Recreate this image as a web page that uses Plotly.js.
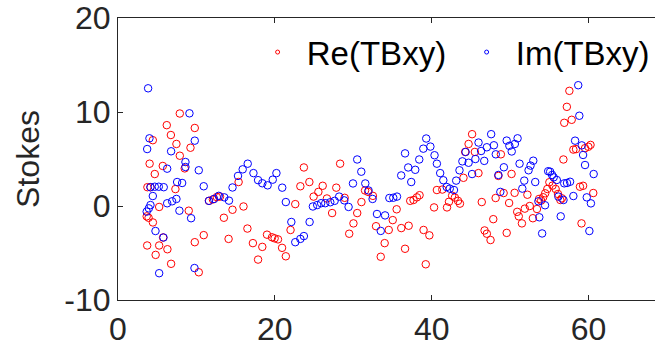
<!DOCTYPE html>
<html>
<head>
<meta charset="utf-8">
<script src="https://cdn.plot.ly/plotly-3.0.1.min.js"></script>
<style>html,body{margin:0;padding:0;background:#fff;}#chart{width:655px;height:348px;}</style>
</head>
<body>
<div id="chart"></div>
<script>
// Re(TBxy) — red open circles
const reX = [3.66,3.72,3.75,3.9,4.03,4.14,4.44,4.45,4.69,4.8,5.25,5.25,5.71,5.75,6.22,6.3,6.74,6.77,7.32,7.45,7.88,7.88,8.51,9.02,9.24,9.79,9.79,10.3,10.93,11.6,12.1,12.6,13.0,13.5,14.1,14.6,15.38,16.0,16.5,17.2,17.86,18.4,19.0,19.64,19.97,20.4,20.92,21.4,22.0,22.6,23.25,23.7,24.4,24.94,25.55,26.1,26.64,27.3,27.83,28.32,28.9,29.48,30.02,30.5,31.04,31.5,31.9,32.5,32.9,33.5,34.0,34.52,35.03,35.53,36.12,36.6,37.06,37.26,37.68,38.11,38.45,38.96,39.24,39.7,40.3,40.66,41.35,41.95,42.2,42.6,42.95,43.35,43.6,44.05,44.27,44.7,45.15,45.5,45.96,46.38,46.74,47.03,47.5,47.85,48.15,48.5,48.82,49.17,49.56,49.87,50.18,50.57,50.9,51.1,51.5,51.87,52.2,52.5,52.9,53.42,53.69,53.95,54.21,54.47,54.74,55.0,55.4,55.8,56.1,56.4,56.6,56.79,56.9,57.23,57.55,57.85,58.06,58.4,58.9,59.1,59.3,59.55,59.97,60.25,60.6];
const reY = [-1.1,-4.2,2.0,-1.25,4.5,2.0,7.0,-1.75,3.4,-5.2,-4.2,-0.1,4.26,-3.35,8.6,-4.6,7.55,-6.15,1.8,6.6,9.84,5.35,4.0,-0.5,6.2,8.3,-3.85,-7.05,-3.1,0.55,0.7,0.95,1.0,-1.25,-3.5,-0.4,2.55,-0.05,-2.4,-3.95,-5.7,-4.35,-3.05,-3.33,-3.44,-3.55,-4.45,-5.35,-2.55,0.2,2.1,4.1,2.55,1.0,1.5,2.15,0.8,-0.75,1.95,4.5,0.87,-2.95,-1.85,-0.75,0.42,1.65,1.5,1.08,-2.15,-5.4,-3.95,-2.55,-1.5,-0.35,-2.35,-4.55,-2.1,0.55,0.64,0.92,1.15,-2.55,-6.2,-3.12,-0.15,1.7,1.75,-0.15,0.45,1.1,0.9,0.55,0.25,3.0,5.75,6.6,7.64,5.75,3.5,0.42,-2.6,-2.95,-3.62,-1.4,0.85,3.2,5.5,1.38,-2.86,0.32,3.41,1.4,-0.62,-1.1,-1.85,-0.28,1.2,0.0,-1.3,-0.32,0.75,0.57,0.93,1.35,1.81,2.53,2.17,1.81,1.28,0.64,0.82,4.95,8.85,10.55,12.25,9.17,6.0,6.05,2.05,-1.85,2.15,6.15,6.3,6.5,1.38];

// Im(TBxy) — blue open circles
const imX = [3.66,3.72,3.84,3.93,4.01,4.14,4.14,4.44,4.69,4.78,5.2,5.25,5.8,5.83,6.27,6.27,6.77,6.9,7.45,7.54,7.83,8.18,8.6,8.6,9.11,9.32,9.75,9.79,10.3,10.93,11.6,12.25,12.85,13.55,14.15,14.6,15.3,15.9,16.54,17.27,17.86,18.4,19.08,19.73,20.2,20.94,21.4,22.1,22.6,23.25,23.7,24.43,24.85,25.4,25.9,26.43,27.07,27.62,28.2,28.85,29.4,29.96,30.5,31.02,31.53,31.95,32.46,33.02,33.5,34.05,34.6,35.1,35.57,36.11,36.6,37.0,37.39,37.9,38.41,38.93,39.3,39.83,40.36,40.66,41.08,41.48,41.91,42.3,42.84,43.12,43.54,43.91,44.32,44.7,45.15,45.57,45.97,46.3,46.7,47.03,47.58,47.93,48.17,48.5,48.75,49.2,49.56,49.9,50.2,50.6,50.95,51.2,51.55,51.8,52.35,52.6,52.95,53.2,53.6,53.72,54.08,54.45,54.85,55.1,55.35,55.55,55.95,56.15,56.45,56.8,56.9,57.25,57.64,58.06,58.28,58.68,58.82,59.13,59.3,59.55,59.77,60.1,60.3,60.65];
const imY = [-0.6,6.06,12.52,-0.25,7.2,0.1,2.0,1.06,2.05,-2.66,2.05,-7.15,-3.35,2.0,3.97,0.29,5.82,0.5,0.75,2.55,-0.5,2.45,4.68,4.15,9.86,-1.3,-6.6,6.95,3.8,2.1,0.55,0.75,1.08,0.92,0.57,1.97,3.2,3.9,4.5,3.5,2.75,2.42,2.2,2.8,3.5,1.95,0.42,-1.7,-3.85,-3.5,-3.2,-1.7,-0.05,0.1,0.3,0.3,0.4,0.55,1.0,0.6,-0.1,2.4,4.95,3.65,2.4,1.65,0.75,-0.85,-2.65,-1.0,0.85,0.88,1.0,3.25,5.6,4.1,2.55,3.85,4.95,6.1,7.18,6.32,5.4,4.5,3.5,2.74,2.02,1.85,1.7,2.7,3.8,4.75,5.75,4.6,3.4,5.0,6.75,5.85,4.8,6.25,7.64,6.46,5.5,3.3,1.5,4.12,6.96,6.4,5.8,6.6,7.2,4.5,1.85,2.7,3.8,4.3,4.82,2.55,0.5,-1.2,-2.92,0.08,3.7,3.65,3.3,3.05,2.77,1.0,-1.1,0.64,2.41,2.45,2.58,1.06,6.95,12.85,9.6,6.45,5.43,4.36,0.92,-2.66,0.28,3.4];

const seriesNames = ['\u00a0Re(TBxy)', '\u00a0Im(TBxy)'];
const seriesColors = ['#ff0000', '#0000ff'];
const xTickVals = [0, 20, 40, 60];
const xTickText = ['0', '20', '40', '60'];
const yTickVals = [-10, 0, 10, 20];
const yTickText = ['-10', '0', '10', '20'];
const yTitle = 'Stokes';

const fontFam = '"Liberation Sans", Arial, Helvetica, sans-serif';
const axisColor = '#262626';

const traces = [
  {x: reX, y: reY, type: 'scatter', mode: 'markers', showlegend: false,
   marker: {symbol: 'circle-open', size: 7.5, color: seriesColors[0], line: {width: 1, color: seriesColors[0]}}},
  {x: imX, y: imY, type: 'scatter', mode: 'markers', showlegend: false,
   marker: {symbol: 'circle-open', size: 7.5, color: seriesColors[1], line: {width: 1, color: seriesColors[1]}}},
  {x: [null], y: [null], type: 'scatter', mode: 'markers', name: seriesNames[0], showlegend: true,
   marker: {symbol: 'circle-open', size: 4, color: seriesColors[0], line: {width: 1, color: seriesColors[0]}}},
  {x: [null], y: [null], type: 'scatter', mode: 'markers', name: seriesNames[1], showlegend: true,
   marker: {symbol: 'circle-open', size: 4, color: seriesColors[1], line: {width: 1, color: seriesColors[1]}}}
];

const layout = {
  width: 655, height: 348,
  margin: {l: 118, r: 0, t: 18, b: 48, pad: 0, autoexpand: false},
  paper_bgcolor: '#ffffff', plot_bgcolor: '#ffffff',
  font: {family: fontFam, size: 32, color: axisColor},
  showlegend: true,
  legend: {
    orientation: 'h', x: 0.26, xanchor: 'left', y: 0.879, yanchor: 'middle',
    bgcolor: 'rgba(0,0,0,0)', borderwidth: 0,
    font: {family: fontFam, size: 33, color: '#000000'},
    entrywidth: 164, entrywidthmode: 'pixels', itemsizing: 'trace'
  },
  xaxis: {
    range: [0, 68.47], autorange: false,
    tickmode: 'array', tickvals: xTickVals, ticktext: xTickText,
    ticks: 'inside', ticklen: 5, tickwidth: 1, tickcolor: axisColor,
    showline: true, linecolor: axisColor, linewidth: 1, mirror: 'ticks',
    showgrid: false, zeroline: false, ticklabelstandoff: 1,
    tickfont: {family: fontFam, size: 32, color: axisColor}
  },
  yaxis: {
    range: [-10, 20], autorange: false,
    tickmode: 'array', tickvals: yTickVals, ticktext: yTickText,
    ticks: 'inside', ticklen: 5, tickwidth: 1, tickcolor: axisColor,
    showline: true, linecolor: axisColor, linewidth: 1, mirror: false,
    showgrid: false, zeroline: false,
    tickfont: {family: fontFam, size: 32, color: axisColor},
    title: {text: yTitle, font: {family: fontFam, size: 32, color: axisColor}, standoff: 15}
  }
};

Plotly.newPlot('chart', traces, layout, {staticPlot: true, displayModeBar: false});
</script>
</body>
</html>
